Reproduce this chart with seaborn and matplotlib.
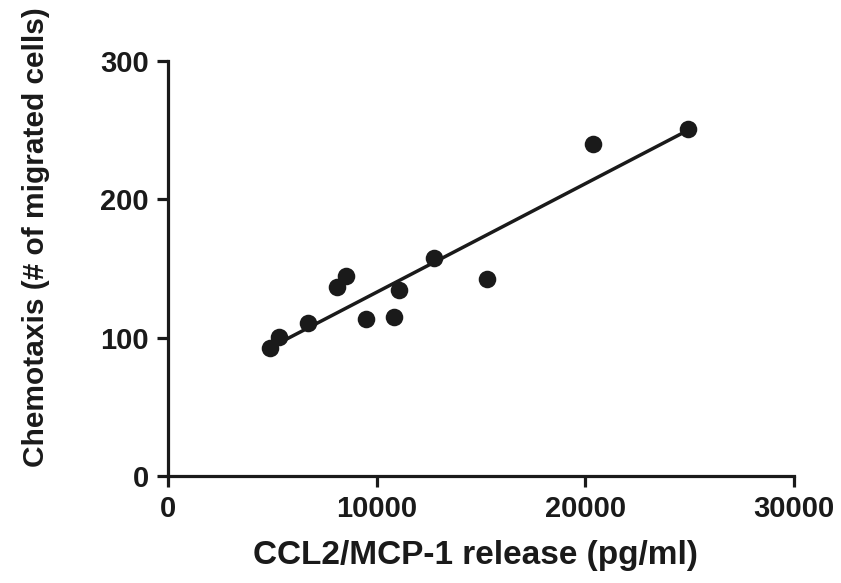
import numpy as np
import pandas as pd
import matplotlib
matplotlib.use("Agg")
import matplotlib.pyplot as plt
import seaborn as sns

# valores
ccl2_release = [4890, 5320, 6710, 8100, 8530, 9490, 10830, 11070, 12750, 15290, 20360, 24920]
chemotaxis = [92.5, 100.5, 110.6, 136.7, 144.6, 113.5, 115.0, 134.5, 157.6, 142.4, 240.1, 250.9]
x_ticks = [0, 10000, 20000, 30000]
y_ticks = [0, 100, 200, 300]

df = pd.DataFrame({"CCL2": ccl2_release, "Chemotaxis": chemotaxis})

sns.set_theme(style="ticks")
plt.rcParams["font.family"] = ["Liberation Sans", "DejaVu Sans"]
plt.rcParams["font.weight"] = "bold"

fig = plt.figure(figsize=(8.41, 5.83), dpi=100)
ax = fig.add_axes([0.2, 0.1835, 0.744, 0.7115])

sns.regplot(data=df, x="CCL2", y="Chemotaxis", ci=None, ax=ax, color="#1a1a1a",
            scatter_kws={"s": 160, "alpha": 1, "linewidths": 0, "zorder": 3},
            line_kws={"linewidth": 2.5})

ax.set_xlim(0, 30000)
ax.set_ylim(0, 300)
ax.set_xticks(x_ticks)
ax.set_yticks(y_ticks)
ax.set_xticklabels([str(t) for t in x_ticks])
ax.set_yticklabels([str(t) for t in y_ticks])

sns.despine(ax=ax)
for sp in ["left", "bottom"]:
    ax.spines[sp].set_linewidth(2.3)
    ax.spines[sp].set_color("#1a1a1a")
ax.tick_params(width=2.3, length=8, labelsize=21, colors="#1a1a1a", pad=6)
for lbl in ax.get_xticklabels() + ax.get_yticklabels():
    lbl.set_fontweight("bold")

ax.set_xlabel("CCL2/MCP-1 release (pg/ml)", fontsize=24, fontweight="bold", color="#1a1a1a")
ax.set_ylabel("Chemotaxis (# of migrated cells)", fontsize=21.5, fontweight="bold", color="#1a1a1a")
ax.xaxis.set_label_coords(0.491, -0.155)
ax.yaxis.set_label_coords(-0.1885, 0.576)

fig.savefig("out.png", dpi=100)
